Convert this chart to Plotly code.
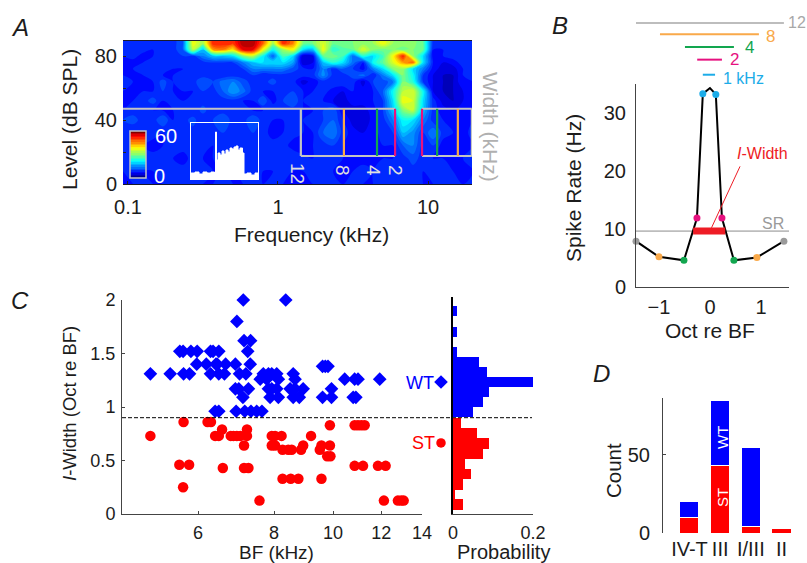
import plotly.graph_objects as go

W, H = 807, 563
FONT = "Liberation Sans"
INK = "#1c1c1c"
AXIS = "#444444"
GRAY = "#bdbdbd"
ORANGE = "#f9a94a"
GREEN = "#12a64f"
PINK = "#e6117f"
CYAN = "#1cace8"
BLUE = "#0000ff"
RED = "#ff0000"

# Panel A
freq_khz = [0.0926,0.108,0.126,0.147,0.171,0.2,0.233,0.271,0.316,0.369,0.43,0.501,0.584,0.681,0.794,0.926,1.08,1.26,1.47,1.71,2.0,2.33,2.71,3.16,3.69,4.3,5.01,5.84,6.81,7.94,9.26,10.8,12.6,14.7,17.1,20.0]
level_db = [0,8,16,24,32,40,46,52,58,64,68,72,76,80,84,88,92]
rate_map = [
 [8,8,9,8,8,8,8,9,8,8,9,8,8,9,8,9,8,8,8,8,8,9,8,9,8,8,9,8,9,9,8,8,9,9,8,9],
 [8,9,8,8,9,9,9,8,9,8,8,8,9,9,8,8,9,8,8,9,9,8,8,8,9,8,9,9,8,9,8,9,9,8,8,8],
 [9,8,9,9,9,8,7,9,8,8,9,9,8,9,10,9,8,10,9,8,10,9,8,8,7,8,8,8,9,11,9,8,8,8,8,9],
 [8,10,8,7,8,9,9,8,9,8,10,8,9,8,8,9,9,7,6,8,9,10,8,7,7,8,8,8,12,14,9,10,7,7,8,8],
 [9,8,9,9,8,9,10,9,8,9,10,8,9,10,9,7,8,9,8,8,12,14,9,7,6,7,9,10,18,15,10,14,9,8,7,9],
 [10,11,9,9,12,8,9,11,8,10,12,9,9,12,9,8,8,9,8,9,10,12,8,5,4,7,9,14,22,20,14,9,8,8,7,8],
 [8,9,8,8,8,8,9,8,11,8,9,8,9,8,8,10,9,9,8,8,10,12,6,5,5,7,10,18,30,34,18,9,7,6,7,8],
 [8,8,9,11,8,9,8,9,9,8,9,9,8,8,12,7,10,12,8,9,8,6,5,7,7,8,10,20,38,36,20,9,5,4,6,8],
 [8,8,8,8,10,8,8,8,10,9,12,16,13,9,8,8,9,10,8,8,9,7,6,8,7,8,12,22,34,36,22,6,4,4,6,8],
 [9,8,8,8,11,8,9,9,12,10,13,14,11,9,9,11,8,9,5,7,9,10,10,9,5,10,11,13,30,24,10,6,4,4,8,8],
 [8,8,8,9,8,8,9,8,9,8,8,9,9,10,8,9,9,9,9,9,15,9,9,11,13,8,14,20,30,22,10,6,4,4,8,9],
 [8,8,9,10,9,8,8,9,9,9,9,10,10,14,14,14,14,11,9,8,14,9,12,10,7,14,20,30,32,20,14,7,5,5,8,9],
 [8,7,8,9,9,10,9,8,9,10,10,10,14,18,20,20,20,16,4,6,18,24,20,13,8,22,28,36,44,48,20,8,6,7,9,9],
 [8,9,7,8,9,9,10,9,14,18,18,20,30,34,22,12,26,20,4,6,28,30,26,12,24,20,26,38,52,32,20,7,8,9,9,9],
 [9,10,9,8,9,9,12,34,18,44,46,40,54,54,38,22,32,38,20,18,38,24,27,28,36,30,29,30,29,30,28,8,8,9,10,9],
 [9,9,9,9,9,9,12,38,32,52,52,50,58,58,48,32,52,46,30,30,36,29,30,30,31,32,38,32,31,31,28,9,10,10,10,10],
 [9,9,9,9,9,9,12,38,32,52,52,50,58,58,48,32,52,46,30,30,36,29,30,30,31,32,38,32,31,31,28,9,10,10,10,10],
]
jet = [[0,"#00007f"],[0.11,"#0000ff"],[0.36,"#00ffff"],[0.5,"#7dff7a"],[0.64,"#ffff00"],[0.89,"#ff0000"],[1,"#7f0000"]]

band_top_left = [0.0926, 6.03]
band_top_right = [9.12, 19.6]
band_level_top = 47
band_level_bottom = 17.5
band_bottom_left = [1.42, 6.03]
width_edges_khz = [1.42, 2.75, 4.57, 6.03, 9.12, 11.5, 15.8, 19.6]
width_colors = ["#c4c4c4", ORANGE, GREEN, PINK, PINK, GREEN, ORANGE, "#c4c4c4"]

inset_x = [0,4,8,12,16,20,23.5,24.5,25.5,27,29,31,33,35,37,39,41,43,45,47,49,51.5,53,56,60,64,67]
inset_y = [6,7,5,7,6,7,5,47,19,26,24,28,25,29,27,31,30,32,33,29,31,26,5,6,4,6,5]

# Panel B
oct_re_bf = [-1.45,-1.0,-0.51,-0.255,-0.14,0.0,0.115,0.235,0.47,0.92,1.45]
spike_rate = [7.9,5.2,4.6,11.9,33.3,34.3,33.2,11.9,4.6,5.1,7.9]
oct_marked = [-1.45,-1.0,-0.51,-0.255,-0.14,0.115,0.235,0.47,0.92,1.45]
rate_marked = [7.9,5.2,4.6,11.9,33.3,33.2,11.9,4.6,5.1,7.9]
marked_colors = ["#9a9a9a",ORANGE,GREEN,PINK,CYAN,CYAN,PINK,GREEN,ORANGE,"#9a9a9a"]
sr_rate = 9.65
iwidth_span = [-0.33, 0.3]
bw_names = ["12","8","4","2","1 kHz"]
bw_left = [-1.45,-0.98,-0.49,-0.25,-0.14]
bw_right = [1.45,0.96,0.47,0.235,0.1]
bw_y = [45.5,43.6,41.4,39.2,36.6]
bw_colors = [GRAY,ORANGE,GREEN,PINK,CYAN]

# Panel C
wt_bf = [7.12,8.36, 6.95, 7.14,7.32,
 5.60,5.67,5.84,5.98,6.29,6.35,6.49,7.24,
 5.97,6.19,6.42,6.45,6.66,6.91,7.31,
 5.01,5.40,5.68,5.81,6.29,6.49,6.63,7.02,7.19,7.68,7.83,7.93,8.08,8.60,
 9.61,9.71,9.81,
 7.59,7.78,8.13,8.66,10.45,10.85,10.99,11.93,
 6.91,7.00,7.26,7.83,7.93,8.08,8.50,8.66,8.93,9.94,
 7.11,7.88,8.13,8.60,8.80,9.61,9.94,10.79,10.90,
 6.40,6.49,6.93,7.16,7.33,7.49,7.64]
wt_width = [2.0,2.0, 1.8, 1.62,1.62,
 1.52,1.52,1.52,1.52,1.52,1.52,1.52,1.52,
 1.4,1.4,1.4,1.4,1.4,1.4,1.4,
 1.31,1.31,1.31,1.31,1.31,1.31,1.31,1.31,1.31,1.31,1.31,1.31,1.31,1.31,
 1.38,1.38,1.38,
 1.26,1.26,1.26,1.26,1.26,1.26,1.26,1.26,
 1.17,1.17,1.17,1.17,1.17,1.17,1.17,1.17,1.17,1.17,
 1.09,1.09,1.09,1.09,1.09,1.09,1.09,1.09,1.09,
 0.96,0.96,0.96,0.96,0.96,0.96,0.96]
st_bf = [5.68,6.22,6.30,
 9.88,10.85,10.99,11.13,11.27,
 6.57,7.22,
 5.01,6.40,6.49,6.79,6.86,6.95,7.04,7.22,7.93,8.03,8.23,9.20,
 7.14,7.93,8.03,8.93,9.88,9.57,
 8.26,8.44,8.55,8.86,9.51,
 5.59,5.80,
 6.59,7.14,7.26,
 10.85,11.20,11.85,12.20,
 8.26,8.52,8.77,9.57,
 9.78,9.90,
 5.67,
 7.57,12.12,12.78,12.94,13.06]
st_width = [0.86,0.86,0.86,
 0.83,0.83,0.83,0.83,0.83,
 0.79,0.79,
 0.73,0.73,0.73,0.73,0.73,0.73,0.73,0.73,0.73,0.73,0.73,0.73,
 0.64,0.64,0.64,0.64,0.64,0.64,
 0.6,0.6,0.6,0.6,0.6,
 0.46,0.46,
 0.43,0.43,0.43,
 0.45,0.45,0.45,0.45,
 0.33,0.33,0.33,0.33,
 0.54,0.54,
 0.25,
 0.125,0.125,0.125,0.125,0.125]
separator_width = 0.9

hist_wt_center = [0.95,1.045,1.14,1.235,1.33,1.42,1.515,1.61,1.70,1.80,1.895]
hist_wt_prob = [0.05,0.075,0.09,0.2,0.085,0.065,0.009,0,0.009,0,0.009]
hist_st_center = [0.853,0.756,0.66,0.566,0.469,0.372,0.275,0.181,0.09]
hist_st_prob = [0.02,0.06,0.09,0.074,0.03,0.044,0.024,0.003,0.024]

# Panel D
cell_types = ["IV-T","III","I/III","II"]
count_st = [10,43,4,3]
count_wt = [10,42,51,0]


def xd(a, b):
    return [a / W, b / W]


def yd(top, bottom):
    return [1 - bottom / H, 1 - top / H]


def ann(x, y, text, size=18, color=INK, angle=0):
    return dict(x=x / W, y=1 - y / H, xref="paper", yref="paper", text=text, showarrow=False,
                xanchor="center", yanchor="middle", textangle=angle,
                font=dict(size=size, color=color, family=FONT))


fig = go.Figure()

fig.add_trace(go.Contour(
    x=freq_khz, y=level_db, z=rate_map, xaxis="x", yaxis="y", colorscale=jet, zmin=0, zmax=60,
    autocontour=False, contours=dict(start=0, end=60, size=2, coloring="fill", showlines=False),
    line=dict(width=0),
    colorbar=dict(x=130 / W, xanchor="left", y=1 - 131 / H, yanchor="top", lenmode="pixels", len=47,
                  thicknessmode="pixels", thickness=16, xpad=0, ypad=0, outlinecolor="#c4c4c4",
                  outlinewidth=1.5, showticklabels=False, ticks=""),
    hoverinfo="skip"))
for xs in (band_top_left, band_top_right):
    fig.add_trace(go.Scatter(x=xs, y=[band_level_top, band_level_top], xaxis="x", yaxis="y", mode="lines",
                             line=dict(color="#c4c4c4", width=2)))
for xs in (band_bottom_left, band_top_right):
    fig.add_trace(go.Scatter(x=xs, y=[band_level_bottom, band_level_bottom], xaxis="x", yaxis="y", mode="lines",
                             line=dict(color="#c4c4c4", width=2)))
for f, c in zip(width_edges_khz, width_colors):
    fig.add_trace(go.Scatter(x=[f, f], y=[band_level_bottom, band_level_top], xaxis="x", yaxis="y", mode="lines",
                             cliponaxis=False, line=dict(color=c, width=2.2)))
fig.add_trace(go.Scatter(x=inset_x, y=inset_y, xaxis="x6", yaxis="y6", mode="lines", fill="tozeroy",
                         fillcolor="white", line=dict(color="white", width=1, shape="hv")))

# Panel B
fig.add_trace(go.Scatter(x=[-1.45, 1.55], y=[sr_rate, sr_rate], xaxis="x2", yaxis="y2", mode="lines",
                         line=dict(color=GRAY, width=1.8)))
fig.add_trace(go.Scatter(x=oct_re_bf, y=spike_rate, xaxis="x2", yaxis="y2", mode="lines",
                         cliponaxis=False, line=dict(color="black", width=2)))
fig.add_trace(go.Scatter(x=iwidth_span, y=[sr_rate, sr_rate], xaxis="x2", yaxis="y2", mode="lines",
                         line=dict(color="#ee1c25", width=7)))
fig.add_trace(go.Scatter(x=[0.03, 0.59], y=[10.2, 20.8], xaxis="x2", yaxis="y2", mode="lines",
                         line=dict(color="#ee1c25", width=1)))
fig.add_trace(go.Scatter(x=oct_marked, y=rate_marked, xaxis="x2", yaxis="y2", mode="markers", cliponaxis=False,
                         marker=dict(color=marked_colors, size=7)))
for a, b, v, c in zip(bw_left, bw_right, bw_y, bw_colors):
    fig.add_trace(go.Scatter(x=[a, b], y=[v, v], xaxis="x2", yaxis="y7", mode="lines",
                             line=dict(color=c, width=2)))

# Panel C
fig.add_trace(go.Scatter(x=wt_bf, y=wt_width, xaxis="x3", yaxis="y3", mode="markers", cliponaxis=False,
                         marker=dict(symbol="diamond", color=BLUE, size=10.5)))
fig.add_trace(go.Scatter(x=st_bf, y=st_width, xaxis="x3", yaxis="y3", mode="markers", cliponaxis=False,
                         marker=dict(symbol="circle", color=RED, size=10.5)))

# Histogram
fig.add_trace(go.Bar(x=hist_wt_prob, y=hist_wt_center, orientation="h", xaxis="x4", yaxis="y4",
                     width=0.093, marker=dict(color=BLUE, line=dict(width=0))))
fig.add_trace(go.Bar(x=hist_st_prob, y=hist_st_center, orientation="h", xaxis="x4", yaxis="y4",
                     width=0.097, marker=dict(color=RED, line=dict(width=0))))
fig.add_trace(go.Scatter(x=[-0.03], y=[1.234], xaxis="x8", yaxis="y4", mode="markers",
                         marker=dict(symbol="diamond", color=BLUE, size=10.5)))
fig.add_trace(go.Scatter(x=[-0.03], y=[0.664], xaxis="x8", yaxis="y4", mode="markers",
                         marker=dict(symbol="circle", color=RED, size=9.5)))

# Panel D
fig.add_trace(go.Bar(x=cell_types, y=count_st, xaxis="x5", yaxis="y5", width=0.62,
                     marker=dict(color=RED, line=dict(color="white", width=1))))
fig.add_trace(go.Bar(x=cell_types, y=count_wt, xaxis="x5", yaxis="y5", width=0.62,
                     marker=dict(color=BLUE, line=dict(color="white", width=1))))


def tfont(size=20):
    return dict(size=size, color=INK, family=FONT)


annotations = [
    ann(20, 27, "<i>A</i>", 24), ann(560, 25, "<i>B</i>", 24), ann(20, 300, "<i>C</i>", 24), ann(601, 373, "<i>D</i>", 24),
    ann(70, 120, "Level (dB SPL)", 21, INK, -90), ann(311, 234, "Frequency (kHz)", 21),
    ann(573, 188, "Spike Rate (Hz)", 21, INK, -90), ann(710, 330, "Oct re BF", 21),
    ann(69, 404, "<i>I</i>-Width (Oct re BF)", 18.5, INK, -90), ann(276, 552, "BF (kHz)", 19),
    ann(503, 552, "Probability", 20), ann(613, 471, "Count", 20.5, INK, -90),
    ann(166, 136, "60", 20, "white"), ann(159, 176, "0", 20, "white"),
    ann(298, 173, "12", 19, "#e0e0e0", 90), ann(342, 170, "8", 19, "#e0e0e0", 90),
    ann(373, 170, "4", 19, "#e0e0e0", 90), ann(395, 170, "2", 19, "#e0e0e0", 90),
    ann(490, 127, "Width (kHz)", 21, "#b0b0b0", 90),
    ann(797, 23, "12", 16, "#a8a8a8"), ann(770, 36, "8", 17, ORANGE), ann(749, 48, "4", 17, GREEN),
    ann(734, 60, "2", 17, PINK), ann(743, 79, "1 kHz", 16, CYAN),
    ann(762, 154, "<i>I</i>-Width", 16, "#ee1c25"), ann(773, 223, "SR", 16, "#9a9a9a"),
    ann(420, 383, "WT", 18, BLUE), ann(423, 443, "ST", 18, RED),
    ann(722, 438, "WT", 15, "white", -90), ann(722, 498, "ST", 15, "white", -90),
]

fig.update_layout(
    width=W, height=H, margin=dict(l=0, r=0, t=0, b=0, autoexpand=False), paper_bgcolor="white",
    plot_bgcolor="rgba(0,0,0,0)",
    showlegend=False, barmode="stack", font=dict(family=FONT, color=INK), annotations=annotations,
    shapes=[dict(type="line", xref="paper", yref="y3", x0=122 / W, x1=532 / W, y0=separator_width, y1=separator_width,
                 line=dict(color="black", width=1, dash="4px,2px"), layer="above")],
    xaxis=dict(domain=xd(123, 472), type="log", range=[-1.033, 1.293], tickvals=[0.1, 1, 10], ticktext=["0.1", "1", "10"],
               ticks="inside", ticklen=3, tickcolor="#222", tickfont=tfont(), showgrid=False, zeroline=False,
               ticklabelstandoff=5, showline=True, mirror=True, linecolor="#1a1a2a", linewidth=1, anchor="y"),
    yaxis=dict(domain=yd(41, 184), range=[0, 89.4], tickvals=[0, 20, 40, 60, 80], ticktext=["0", "", "40", "", "80"],
               ticks="inside", ticklen=3, tickcolor="#222", tickfont=tfont(), showgrid=False, zeroline=False,
               ticklabelstandoff=5, anchor="x"),
    xaxis2=dict(domain=xd(636, 789), range=[-1.45, 1.55], tickvals=[-1, 0, 1], ticks="", tickfont=tfont(),
                ticklabelstandoff=2, showline=True, linecolor=AXIS, linewidth=1, showgrid=False, zeroline=False, anchor="y2"),
    yaxis2=dict(domain=yd(84, 287), range=[0, 35], tickvals=[0, 10, 20, 30], ticks="", tickfont=tfont(),
                ticklabelstandoff=5, showline=True, linecolor=AXIS, linewidth=1, showgrid=False, zeroline=False, anchor="x2"),
    yaxis7=dict(domain=yd(15, 84), range=[35, 46.9], visible=False, anchor="x2"),
    xaxis3=dict(domain=xd(122, 422), type="log", range=[0.6532, 1.1461], tickvals=[6, 8, 10, 12, 14],
                ticktext=["6", "8", "10", "12", "14"], ticks="inside", ticklen=3, tickcolor=AXIS, tickfont=tfont(18),
                ticklabelstandoff=2, showline=True, linecolor=AXIS, linewidth=1, showgrid=False, zeroline=False, anchor="y3"),
    yaxis3=dict(domain=yd(300, 514), range=[0, 2], tickvals=[0, 0.5, 1, 1.5, 2], ticktext=["0", "0.5", "1", "1.5", "2"],
                ticks="inside", ticklen=3, tickcolor=AXIS, tickfont=tfont(18), ticklabelstandoff=2,
                showline=True, linecolor=AXIS, linewidth=1, showgrid=False, zeroline=False, anchor="x3"),
    xaxis4=dict(domain=xd(453, 533), range=[0, 0.2], tickvals=[0, 0.2], ticktext=["0", "0.2"], ticks="", tickfont=tfont(18),
                ticklabelstandoff=2, showline=True, linecolor=AXIS, linewidth=1, showgrid=False, zeroline=False, anchor="y4"),
    xaxis8=dict(domain=xd(430, 453), range=[-0.0575, 0], visible=False, anchor="y4"),
    yaxis4=dict(domain=yd(297, 514), range=[0, 2.028], showticklabels=False, ticks="", showline=True,
                linecolor="black", linewidth=1.5, showgrid=False, zeroline=False, anchor="x4"),
    xaxis5=dict(domain=xd(663, 795), range=[-0.863, 3.44], tickmode="array", tickvals=cell_types, ticks="",
                tickfont=tfont(20), ticklabelstandoff=2, showline=False, showgrid=False, zeroline=False, anchor="y5"),
    yaxis5=dict(domain=yd(398, 533), range=[0, 86.5], tickvals=[0, 50], ticks="inside", ticklen=3, tickcolor=AXIS,
                tickfont=tfont(), ticklabelstandoff=8, showline=True, linecolor=AXIS, linewidth=1, showgrid=False,
                zeroline=False, anchor="x5"),
    xaxis6=dict(domain=xd(191, 258), range=[0, 67], showticklabels=False, ticks="", showline=True, mirror=True,
                linecolor="white", linewidth=1, showgrid=False, zeroline=False, anchor="y6"),
    yaxis6=dict(domain=yd(123, 179), range=[0, 56], showticklabels=False, ticks="", showline=True, mirror=True,
                linecolor="white", linewidth=1, showgrid=False, zeroline=False, anchor="x6"),
)

fig.write_html("out.html", config={"displayModeBar": False}, post_script="document.body.style.margin='0';")
